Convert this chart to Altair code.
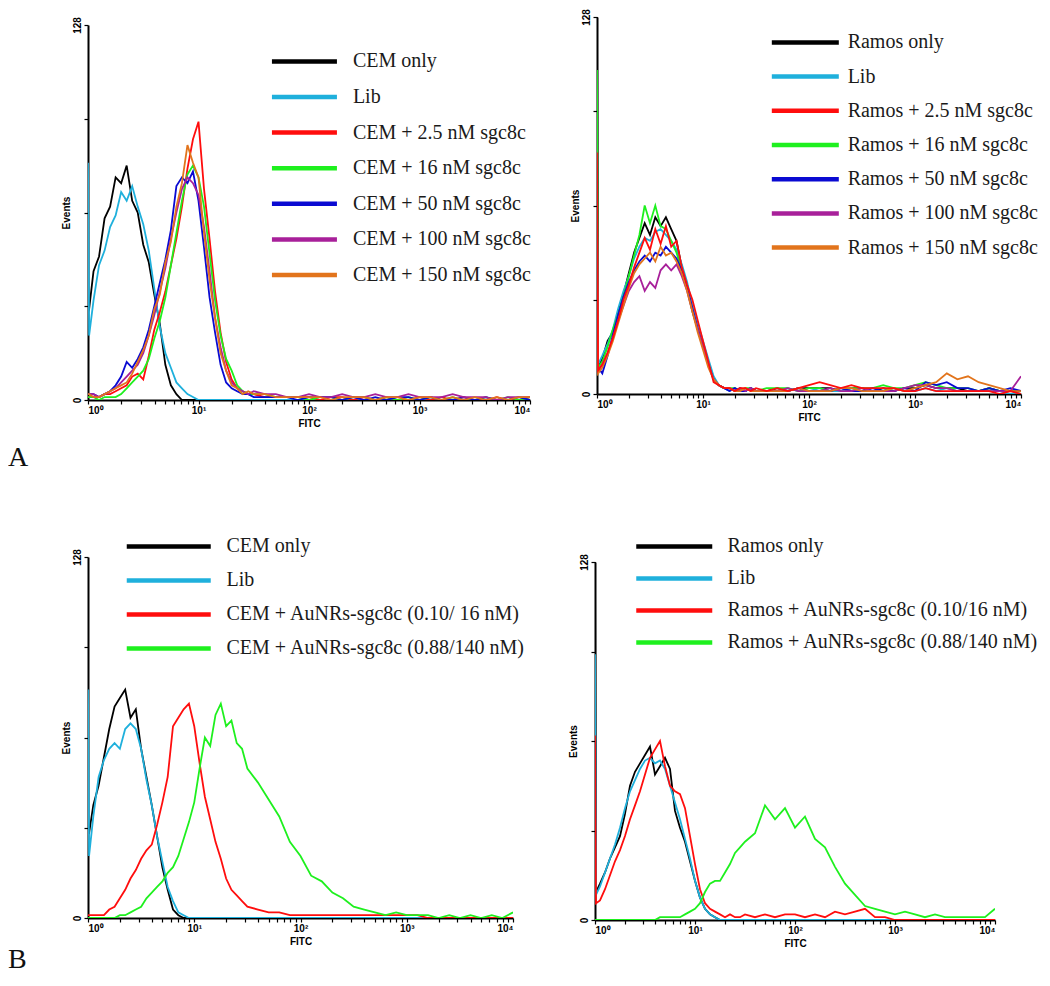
import math
import altair as alt
import pandas as pd

# log10(FITC) positions of the sampled histogram points
EXP = [0, 0.01, 0.05, 0.1, 0.15, 0.2, 0.25, 0.3, 0.35, 0.4, 0.45, 0.5, 0.55, 0.6, 0.65,
       0.7, 0.75, 0.8, 0.85, 0.9, 0.95, 1.0, 1.05, 1.1, 1.15, 1.2, 1.25, 1.3, 1.35, 1.4,
       1.45, 1.5, 1.6, 1.7, 1.8, 1.9, 2.0, 2.1, 2.2, 2.3, 2.4, 2.5, 2.6, 2.7, 2.8, 2.9,
       3.0, 3.1, 3.2, 3.3, 3.4, 3.5, 3.6, 3.7, 3.8, 3.9, 4.0]

X_TICK_LABELS = ["10⁰", "10¹", "10²", "10³", "10⁴"]
Y_TICKS = [0, 32, 64, 96, 128]

COLORS7 = ["#000000", "#1fb0dc", "#ff0d0d", "#1ef01e", "#0a0ad2", "#a8209a", "#e2741c"]
COLORS4 = ["#000000", "#1fb0dc", "#ff0d0d", "#1ef01e"]

# ---- Panel A, left: CEM cells ----
CEM_A_LABELS = ["CEM only", "Lib", "CEM + 2.5 nM sgc8c", "CEM + 16 nM sgc8c",
                "CEM + 50 nM sgc8c", "CEM + 100 nM sgc8c", "CEM + 150 nM sgc8c"]
CEM_A_ONLY = [30, 31, 44, 49, 62, 66, 76, 74, 80, 68, 64, 53, 47, 36, 26, 12, 5, 2, 0, 0, 0, 0, 0, 0, 0, 0, 0, 0, 0, 0, 0, 0,
              0, 0, 0, 0, 0, 0, 0, 0, 0, 0, 0, 0, 0, 0, 0, 0, 0, 0, 0, 0, 0, 0, 0, 0, 0]
CEM_A_LIB = [81, 22, 34, 46, 51, 59, 63, 71, 68, 73, 66, 60, 51, 38, 25, 16, 11, 6, 4, 2, 1, 0, 0, 0, 0, 0, 0, 0, 0, 0, 0, 0,
             0, 0, 0, 0, 0, 0, 0, 0, 0, 0, 0, 0, 0, 0, 0, 0, 0, 0, 0, 0, 0, 0, 0, 0, 0]
CEM_A_2_5 = [1, 1, 1, 1, 2, 2, 3, 4, 5, 8, 9, 7, 15, 24, 30, 37, 46, 55, 66, 79, 89, 95, 72, 55, 37, 23, 13, 7, 4, 3, 2, 2,
             1, 1, 1, 1, 1, 0, 1, 1, 0, 1, 0, 1, 0, 0, 1, 0, 1, 0, 1, 0, 0, 1, 0, 0, 1]
CEM_A_16 = [1, 1, 1, 0, 1, 1, 1, 2, 4, 6, 8, 10, 14, 21, 27, 35, 46, 57, 68, 77, 80, 76, 66, 50, 34, 22, 14, 10, 5, 3, 2, 2,
            2, 1, 1, 1, 0, 1, 1, 0, 1, 1, 0, 1, 0, 1, 0, 1, 0, 1, 0, 0, 1, 0, 1, 0, 1]
CEM_A_50 = [2, 2, 2, 1, 2, 3, 5, 8, 13, 11, 14, 18, 24, 32, 40, 48, 58, 73, 76, 74, 78, 68, 52, 35, 23, 12, 6, 4, 3, 2, 2, 1,
            1, 1, 1, 0, 1, 1, 1, 0, 1, 0, 1, 0, 1, 1, 0, 1, 0, 0, 1, 0, 1, 0, 0, 1, 0]
CEM_A_100 = [2, 2, 2, 1, 2, 3, 4, 6, 8, 10, 12, 16, 22, 29, 37, 45, 55, 64, 72, 76, 74, 70, 59, 44, 28, 18, 10, 6, 4, 3, 2, 3,
             2, 2, 1, 1, 2, 1, 1, 2, 1, 1, 2, 1, 1, 2, 1, 1, 1, 2, 1, 1, 1, 0, 1, 1, 1]
CEM_A_150 = [2, 2, 1, 1, 2, 3, 4, 5, 6, 9, 13, 17, 22, 31, 36, 47, 54, 66, 74, 87, 81, 76, 57, 41, 28, 16, 10, 5, 4, 2, 3, 2,
             2, 1, 1, 1, 1, 1, 0, 1, 1, 1, 0, 1, 1, 0, 1, 1, 0, 1, 0, 1, 0, 1, 0, 1, 1]

# ---- Panel A, right: Ramos cells ----
RAM_A_LABELS = ["Ramos only", "Lib", "Ramos + 2.5 nM sgc8c", "Ramos + 16 nM sgc8c",
                "Ramos + 50 nM sgc8c", "Ramos + 100 nM sgc8c", "Ramos + 150 nM sgc8c"]
RAM_A_ONLY = [128, 9, 12, 18, 21, 28, 34, 41, 48, 53, 58, 54, 60, 57, 60, 56, 52, 43, 37, 29, 22, 17, 11, 5, 3, 2, 2, 1, 2, 1, 2, 1,
              1, 2, 1, 2, 2, 2, 2, 1, 2, 2, 1, 2, 1, 2, 2, 3, 2, 2, 2, 1, 1, 2, 1, 1, 1]
RAM_A_LIB = [60, 10, 13, 17, 22, 29, 35, 40, 46, 50, 53, 52, 55, 56, 54, 52, 49, 44, 38, 30, 24, 18, 12, 6, 3, 2, 1, 2, 1, 1, 2, 1,
             1, 1, 2, 1, 1, 2, 1, 1, 2, 1, 1, 1, 2, 1, 1, 2, 1, 2, 1, 1, 1, 1, 1, 0, 1]
RAM_A_2_5 = [82, 8, 10, 14, 19, 25, 32, 37, 43, 48, 53, 49, 56, 51, 57, 50, 52, 43, 37, 32, 25, 18, 11, 4, 3, 2, 2, 1, 2, 2, 1, 2,
             1, 2, 1, 2, 3, 4, 3, 2, 3, 2, 2, 2, 2, 1, 1, 2, 1, 1, 1, 1, 1, 1, 0, 1, 0]
RAM_A_16 = [110, 9, 11, 16, 22, 27, 33, 40, 47, 54, 64, 58, 64, 57, 56, 52, 48, 42, 36, 28, 22, 16, 10, 5, 3, 2, 2, 2, 1, 2, 2, 1,
            2, 2, 2, 1, 2, 2, 1, 2, 2, 2, 2, 3, 2, 2, 3, 4, 3, 2, 2, 2, 1, 2, 1, 1, 1]
RAM_A_50 = [20, 9, 7, 13, 20, 27, 33, 38, 42, 45, 47, 45, 48, 47, 50, 48, 46, 42, 36, 29, 22, 16, 10, 5, 3, 2, 1, 2, 1, 1, 2, 1,
            1, 1, 1, 2, 1, 1, 1, 2, 1, 1, 2, 1, 1, 2, 1, 4, 3, 4, 2, 2, 1, 2, 1, 2, 1]
RAM_A_100 = [70, 8, 10, 14, 19, 25, 30, 35, 38, 40, 35, 38, 36, 42, 44, 42, 44, 40, 35, 28, 22, 16, 10, 5, 3, 2, 2, 1, 2, 1, 2, 1,
             1, 1, 2, 1, 1, 1, 2, 1, 1, 2, 1, 1, 1, 2, 3, 3, 2, 2, 1, 1, 1, 1, 1, 1, 6]
RAM_A_150 = [44, 7, 9, 13, 18, 24, 30, 36, 41, 44, 46, 48, 45, 50, 47, 48, 45, 41, 35, 28, 21, 15, 9, 5, 3, 2, 2, 1, 1, 2, 1, 1,
             1, 1, 1, 2, 1, 1, 1, 2, 2, 1, 1, 1, 2, 1, 2, 3, 4, 7, 5, 6, 4, 3, 2, 1, 1]

# ---- Panel B, left: CEM cells with AuNRs-sgc8c ----
CEM_B_LABELS = ["CEM only", "Lib", "CEM + AuNRs-sgc8c (0.10/ 16 nM)", "CEM + AuNRs-sgc8c (0.88/140 nM)"]
CEM_B_ONLY = [30, 30, 40, 47, 57, 67, 75, 78, 81, 71, 74, 60, 50, 40, 29, 18, 10, 3, 1, 0, 0, 0, 0, 0, 0, 0, 0, 0, 0, 0, 0, 0,
              0, 0, 0, 0, 0, 0, 0, 0, 0, 0, 0, 0, 0, 0, 0, 0, 0, 0, 0, 0, 0, 0, 0, 0, 0]
CEM_B_LIB = [81, 22, 36, 50, 56, 60, 62, 60, 67, 69, 67, 60, 49, 40, 29, 20, 11, 6, 2, 1, 0, 0, 0, 0, 0, 0, 0, 0, 0, 0, 0, 0,
             0, 0, 0, 0, 0, 0, 0, 0, 0, 0, 0, 0, 0, 0, 0, 0, 0, 0, 0, 0, 0, 0, 0, 0, 0]
CEM_B_010 = [1, 1, 1, 1, 1, 3, 4, 7, 10, 14, 17, 21, 24, 26, 33, 41, 50, 68, 71, 74, 76, 68, 55, 43, 35, 27, 21, 14, 10, 8, 6, 4,
             3, 2, 2, 1, 1, 1, 1, 1, 1, 1, 1, 1, 1, 1, 1, 1, 0, 0, 0, 0, 0, 0, 0, 0, 0]
CEM_B_088 = [0, 0, 0, 0, 0, 0, 0, 1, 1, 2, 3, 4, 7, 9, 11, 13, 16, 18, 22, 28, 34, 41, 53, 64, 61, 72, 76, 68, 70, 62, 60, 53,
             48, 42, 36, 27, 22, 15, 13, 9, 7, 4, 3, 2, 1, 2, 1, 1, 1, 0, 1, 0, 1, 0, 1, 0, 2]

# ---- Panel B, right: Ramos cells with AuNRs-sgc8c ----
RAM_B_LABELS = ["Ramos only", "Lib", "Ramos + AuNRs-sgc8c (0.10/16 nM)", "Ramos + AuNRs-sgc8c (0.88/140 nM)"]
RAM_B_ONLY = [128, 10, 13, 17, 22, 26, 30, 38, 48, 53, 56, 59, 62, 52, 55, 58, 54, 39, 33, 28, 21, 14, 8, 4, 2, 1, 0, 0, 0, 0, 0, 0,
              0, 0, 0, 0, 0, 0, 0, 0, 0, 0, 0, 0, 0, 0, 0, 0, 0, 0, 0, 0, 0, 0, 0, 0, 0]
RAM_B_LIB = [95, 9, 12, 17, 22, 27, 33, 40, 46, 50, 54, 57, 58, 56, 57, 54, 48, 42, 36, 29, 22, 14, 8, 4, 2, 1, 0, 0, 0, 0, 0, 0,
             0, 0, 0, 0, 0, 0, 0, 0, 0, 0, 0, 0, 0, 0, 0, 0, 0, 0, 0, 0, 0, 0, 0, 0, 0]
RAM_B_010 = [66, 6, 7, 11, 16, 21, 25, 30, 36, 41, 46, 52, 58, 61, 64, 55, 48, 46, 45, 40, 30, 20, 11, 6, 4, 3, 2, 1, 2, 1, 1, 2,
             1, 2, 1, 2, 2, 1, 2, 1, 3, 2, 3, 4, 1, 1, 0, 0, 0, 0, 0, 0, 0, 0, 0, 0, 0]
RAM_B_088 = [0, 0, 0, 0, 0, 0, 0, 0, 0, 0, 0, 0, 0, 0, 1, 1, 1, 1, 1, 2, 3, 4, 6, 10, 13, 14, 14, 17, 20, 24, 26, 28,
             31, 41, 36, 40, 33, 37, 29, 26, 19, 13, 9, 5, 4, 3, 2, 3, 2, 1, 2, 1, 1, 1, 1, 1, 4]

X_TICKS = sorted([d + math.log10(k) for d in range(4) for k in range(1, 10)] + [4])

AX_FONT = "Liberation Sans"
LEGEND_LINE = "M-8,0H8"   # horizontal legend stroke, 8x the symbol's nominal width


def x_enc():
    label_expr = ("datum.value == 0 ? '%s' : datum.value == 1 ? '%s' : datum.value == 2 ? '%s' : "
                  "datum.value == 3 ? '%s' : datum.value == 4 ? '%s' : ''") % tuple(X_TICK_LABELS)
    return alt.X("exp:Q", scale=alt.Scale(domain=[0, 4], nice=False, zero=False),
                 axis=alt.Axis(values=X_TICKS, labelExpr=label_expr, labelOverlap=False, title="FITC",
                               titlePadding=3, labelPadding=1))


def y_enc(h, shift):
    return alt.Y("events:Q", scale=alt.Scale(domain=[0, 128], nice=False, zero=True, range=[h, shift]),
                 axis=alt.Axis(values=Y_TICKS, labelExpr="datum.value == 0 || datum.value == 128 ? datum.label : ''",
                               labelAngle=270, labelAlign="center", labelBaseline="bottom", labelPadding=2,
                               title="Events", titlePadding=1))


def panel(field, labels, colors, series, order, w, h, leg, shift=0):
    # leg: (line start x, first-row centre y, line length, label start x, row spacing), relative to plot
    line_x, row_y, length, text_x, row_step = leg
    s = length / 8.0
    x0 = line_x - 6 + 3.5 * s
    scale = alt.Scale(domain=labels, range=colors)
    legend = alt.Legend(title=None, orient="none", legendX=x0, legendY=row_y - 8.6 + shift,
                        direction="vertical", symbolType=LEGEND_LINE, symbolSize=s * s, symbolStrokeWidth=4.5,
                        symbolOpacity=1, labelFont="Liberation Serif", labelFontSize=20,
                        labelColor="#1a1a1a", labelOffset=text_x - 13 - x0 - s, rowPadding=row_step - 20,
                        labelLimit=0, padding=0)
    layers = []
    for n, i in enumerate(order):
        df = pd.DataFrame({"exp": EXP, "events": series[i], field: labels[i]})
        layers.append(
            alt.Chart(df).mark_line(strokeWidth=1.8, clip=True).encode(
                x=x_enc(), y=y_enc(h + shift, shift),
                color=alt.Color(field + ":N", scale=scale, legend=legend if n == 0 else None),
            )
        )
    return alt.layer(*layers).properties(width=w, height=h + shift)


p_a1 = panel("cemA", CEM_A_LABELS, COLORS7,
             [CEM_A_ONLY, CEM_A_LIB, CEM_A_2_5, CEM_A_16, CEM_A_50, CEM_A_100, CEM_A_150],
             [0, 1, 2, 3, 4, 5, 6], 442, 375, (184, 35, 65, 266, 35.6), shift=8)
p_a2 = panel("ramA", RAM_A_LABELS, COLORS7,
             [RAM_A_ONLY, RAM_A_LIB, RAM_A_2_5, RAM_A_16, RAM_A_50, RAM_A_100, RAM_A_150],
             [0, 1, 3, 4, 5, 6, 2], 424, 377, (175, 24, 67, 252, 34.2))
p_b1 = panel("cemB", CEM_B_LABELS, COLORS4, [CEM_B_ONLY, CEM_B_LIB, CEM_B_010, CEM_B_088],
             [0, 1, 2, 3], 425, 361, (40, -12, 84, 142, 34))
p_b2 = panel("ramB", RAM_B_LABELS, COLORS4, [RAM_B_ONLY, RAM_B_LIB, RAM_B_010, RAM_B_088],
             [0, 1, 2, 3], 400, 358, (42, -17, 76, 135, 32), shift=5)


def letter(t, off):
    return alt.TitleParams(t, orient="bottom", anchor="start", font="Liberation Serif", fontSize=28,
                           fontWeight="normal", color="#111111", dx=-53, offset=off)


row_a = alt.hconcat(p_a1, p_a2, spacing=38, title=letter("A", 16)).resolve_scale(color="independent")
row_b = alt.hconcat(p_b1, p_b2, spacing=42, title=letter("B", -2)).resolve_scale(color="independent")

chart = (
    alt.vconcat(row_a, row_b, spacing=64)
    .resolve_scale(color="independent")
    .properties(padding={"left": 0, "top": 0, "right": 0, "bottom": 0})
    .configure_view(stroke=None)
    .configure_axis(grid=False, domainColor="#000000", domainWidth=2, tickColor="#000000", tickWidth=1.2,
                    tickSize=4, labelColor="#000000", titleColor="#000000", labelFont=AX_FONT,
                    labelFontWeight="bold", labelFontSize=10, titleFont=AX_FONT, titleFontWeight="bold",
                    titleFontSize=10)
)

chart.save("out.html", embed_options={"renderer": "svg", "actions": False})
